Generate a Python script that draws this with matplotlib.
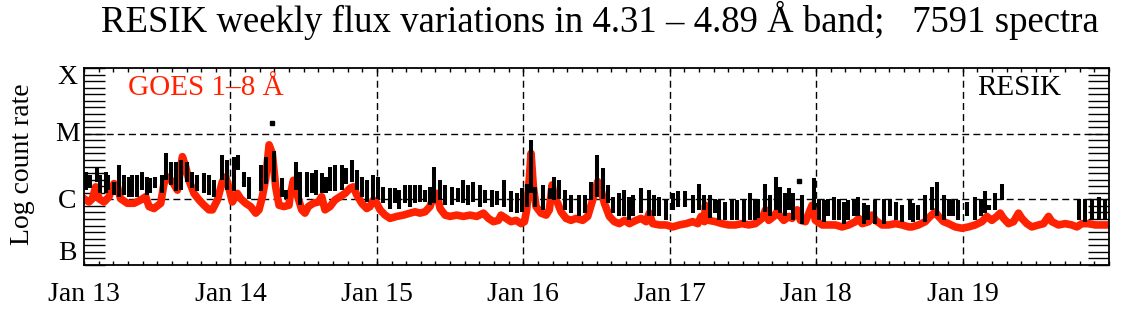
import numpy as np
import matplotlib
matplotlib.use("Agg")
import matplotlib.pyplot as plt
from matplotlib.ticker import MultipleLocator, FixedLocator

plt.rcParams['font.family'] = ['Liberation Serif', 'DejaVu Serif']

# -------------------------
# data: time in days from Jan 13 00:00, values in log10 flux
# -------------------------
goes_t = [0.000, 0.034, 0.057, 0.080, 0.102, 0.137, 0.171, 0.205, 0.228, 0.250,
          0.296, 0.342, 0.387, 0.421, 0.444, 0.478, 0.524, 0.546, 0.569, 0.603,
          0.638, 0.672, 0.694, 0.717, 0.751, 0.786, 0.820, 0.854, 0.877, 0.911,
          0.945, 0.968, 0.990, 1.013, 1.047, 1.070, 1.104, 1.138, 1.173, 1.195,
          1.218, 1.241, 1.264, 1.286, 1.309, 1.332, 1.366, 1.400,
          1.407, 1.430, 1.453, 1.487, 1.509, 1.532, 1.566, 1.601, 1.623, 1.646,
          1.680, 1.714, 1.749, 1.783, 1.817, 1.840, 1.862, 1.897, 1.931, 1.953,
          1.976, 1.999, 2.022, 2.056, 2.090, 2.136, 2.181, 2.227, 2.261, 2.295,
          2.329, 2.363, 2.386, 2.409, 2.432, 2.466, 2.500, 2.545, 2.591, 2.636,
          2.682, 2.728, 2.762, 2.796, 2.830,
          2.848, 2.882, 2.916, 2.951, 2.985, 3.008, 3.023, 3.042, 3.053, 3.069,
          3.087, 3.121, 3.156, 3.178, 3.197, 3.212, 3.235, 3.258, 3.292, 3.326,
          3.360, 3.406, 3.440, 3.474, 3.508, 3.531, 3.554, 3.588, 3.622, 3.656,
          3.691, 3.725, 3.770, 3.804, 3.839, 3.861, 3.884, 3.930, 3.975, 4.021,
          4.066, 4.112, 4.157, 4.192, 4.214, 4.237,
          4.244, 4.267, 4.312, 4.358, 4.403, 4.449, 4.494, 4.540, 4.585, 4.631,
          4.654, 4.676, 4.711, 4.733, 4.756, 4.779, 4.813, 4.836, 4.870, 4.893,
          4.927, 4.972, 4.995, 5.041, 5.086, 5.132, 5.177, 5.223, 5.268, 5.291,
          5.314, 5.359, 5.382, 5.405, 5.450, 5.496, 5.542, 5.587, 5.633,
          5.654, 5.699, 5.745, 5.779, 5.813, 5.836, 5.870, 5.904, 5.950, 5.995,
          6.041, 6.086, 6.132, 6.166, 6.200, 6.234, 6.257, 6.280, 6.314, 6.348,
          6.382, 6.405, 6.439, 6.473, 6.519, 6.553, 6.587, 6.610, 6.655, 6.701,
          6.746, 6.781, 6.815, 6.860, 6.906, 6.951, 7.000]
goes_v = [-5.99, -6.04, -5.99, -5.81, -5.99, -6.04, -5.96, -5.76, -5.81, -5.99,
          -6.06, -6.06, -6.01, -5.96, -6.11, -6.14, -6.06, -5.76, -5.66, -5.73,
          -5.86, -5.35, -5.50, -5.71, -5.91, -6.01, -6.09, -6.16, -6.16, -6.01,
          -5.73, -5.66, -5.83, -6.04, -5.91, -5.99, -6.06, -6.11, -6.21, -6.16,
          -5.96, -5.68, -5.17, -5.30, -5.81, -6.09, -6.11, -6.09,
          -5.96, -5.71, -5.91, -6.16, -6.21, -6.11, -6.06, -6.04, -5.96, -6.16,
          -6.11, -6.01, -5.96, -5.91, -5.83, -5.81, -5.93, -6.06, -6.14, -6.11,
          -6.01, -6.06, -6.16, -6.24, -6.29, -6.26, -6.24, -6.21, -6.19, -6.21,
          -6.19, -6.11, -5.96, -5.91, -6.14, -6.24, -6.26, -6.24, -6.26, -6.24,
          -6.26, -6.21, -6.29, -6.34, -6.32,
          -6.24, -6.29, -6.34, -6.32, -6.37, -6.34, -6.16, -5.66, -5.30, -5.81,
          -6.11, -6.21, -6.24, -6.16, -5.78, -5.96, -6.06, -6.19, -6.29, -6.32,
          -6.29, -6.32, -6.26, -6.01, -5.73, -5.86, -6.06, -6.26, -6.34, -6.37,
          -6.32, -6.37, -6.32, -6.29, -6.34, -6.21, -6.37, -6.39, -6.39, -6.42,
          -6.39, -6.37, -6.34, -6.37, -6.26, -6.34,
          -6.09, -6.32, -6.34, -6.37, -6.39, -6.39, -6.37, -6.39, -6.37, -6.29,
          -6.16, -6.32, -6.26, -6.19, -6.26, -6.32, -6.26, -6.29, -6.16, -6.32,
          -6.34, -6.09, -6.32, -6.39, -6.39, -6.39, -6.42, -6.39, -6.34, -6.29,
          -6.37, -6.34, -6.24, -6.32, -6.39, -6.39, -6.37, -6.39, -6.42,
          -6.42, -6.39, -6.34, -6.26, -6.19, -6.26, -6.34, -6.37, -6.42, -6.44,
          -6.42, -6.39, -6.34, -6.26, -6.32, -6.26, -6.21, -6.29, -6.37, -6.34,
          -6.21, -6.29, -6.37, -6.42, -6.39, -6.37, -6.26, -6.34, -6.39, -6.37,
          -6.39, -6.42, -6.37, -6.37, -6.39, -6.39, -6.39]

# RESIK spectra groups: time, lowest and highest value of each group
resik_t = [0.011, 0.041, 0.091, 0.109, 0.148, 0.166, 0.205, 0.239, 0.273, 0.307,
           0.330, 0.364, 0.394, 0.428, 0.451, 0.485, 0.535, 0.558, 0.592, 0.626,
           0.660, 0.706, 0.740, 0.774, 0.820, 0.854, 0.888, 0.945, 0.979, 1.025,
           1.054, 1.093, 1.127, 1.207, 1.241, 1.298, 1.355, 1.378,
           1.448, 1.475, 1.521, 1.555, 1.585, 1.623, 1.653, 1.680, 1.714, 1.760,
           1.789, 1.828, 1.862, 1.897, 1.931, 1.976, 2.010, 2.045, 2.090, 2.124,
           2.154, 2.193, 2.227, 2.261, 2.295, 2.329, 2.363, 2.391, 2.432, 2.466,
           2.511, 2.557, 2.586, 2.625, 2.659, 2.705, 2.739, 2.785, 2.819,
           2.869, 2.916, 2.955, 2.992, 3.023, 3.055, 3.083, 3.137, 3.183, 3.210,
           3.247, 3.288, 3.326, 3.383, 3.420, 3.463, 3.502, 3.543, 3.577, 3.611,
           3.656, 3.686, 3.725, 3.752, 3.804, 3.861, 3.896, 3.930, 3.975, 4.021,
           4.055, 4.105, 4.157, 4.203,
           4.237, 4.278, 4.308, 4.339, 4.380, 4.426, 4.460, 4.506, 4.551, 4.581,
           4.604, 4.654, 4.688, 4.726, 4.756, 4.786, 4.818, 4.840, 4.904, 4.984,
           5.018, 5.052, 5.082, 5.120, 5.155, 5.189, 5.218, 5.257, 5.287, 5.325,
           5.355, 5.405, 5.462, 5.501, 5.542, 5.587, 5.644,
           5.663, 5.699, 5.745, 5.790, 5.824, 5.870, 5.904, 5.934, 5.972, 6.029,
           6.086, 6.127, 6.150, 6.182, 6.223, 6.268,
           6.797, 6.837, 6.883, 6.929, 6.974]
resik_lo = [-5.86, -5.83, -5.73, -5.91, -5.91, -5.86, -5.93, -5.96, -5.93, -5.96,
            -5.96, -5.96, -5.86, -5.93, -5.91, -5.83, -5.91, -5.71, -5.78, -5.88,
            -5.86, -5.73, -5.83, -5.88, -5.91, -5.93, -5.96, -5.71, -5.86, -5.88,
            -5.55, -5.81, -5.99, -5.88, -5.76, -5.73, -5.96, -5.99,
            -5.86, -6.09, -5.96, -5.91, -5.93, -5.91, -5.91, -5.88, -5.88, -5.86,
            -5.76, -5.73, -5.86, -5.96, -6.04, -6.01, -5.99, -6.06, -6.14, -6.06,
            -6.14, -6.06, -6.11, -6.06, -6.04, -6.04, -6.09, -6.06, -6.01, -6.09,
            -6.09, -6.04, -6.06, -6.09, -6.04, -6.11, -6.06, -6.11, -6.09,
            -6.11, -6.19, -6.21, -6.19, -6.11, -5.91, -6.11, -6.16, -5.99, -6.01,
            -5.99, -6.16, -6.21, -6.26, -6.21, -6.01, -5.96, -5.99, -6.06, -6.21,
            -6.26, -6.26, -6.32, -6.26, -6.21, -6.26, -6.26, -6.26, -6.32, -6.16,
            -6.11, -6.11, -6.21, -6.16,
            -6.16, -6.29, -6.21, -6.32, -6.32, -6.32, -6.32, -6.34, -6.32, -6.32,
            -6.29, -6.19, -6.26, -6.16, -6.21, -6.26, -6.16, -6.32, -6.37, -6.16,
            -6.32, -6.34, -6.26, -6.32, -6.32, -6.37, -6.32, -6.26, -6.26, -6.37,
            -6.32, -6.37, -6.37, -6.26, -6.32, -6.34, -6.32,
            -6.34, -6.32, -6.34, -6.16, -6.26, -6.32, -6.26, -6.26, -6.32, -6.26,
            -6.32, -6.26, -6.21, -6.16, -6.16, -6.01,
            -6.32, -6.34, -6.32, -6.32, -6.32]
resik_hi = [-5.58, -5.63, -5.50, -5.63, -5.58, -5.63, -5.73, -5.48, -5.63, -5.66,
            -5.63, -5.63, -5.58, -5.66, -5.68, -5.66, -5.63, -5.30, -5.43, -5.43,
            -5.40, -5.43, -5.58, -5.63, -5.60, -5.63, -5.71, -5.33, -5.40, -5.35,
            -5.33, -5.58, -5.66, -5.48, -5.35, -5.27, -5.68, -5.86,
            -5.43, -5.58, -5.58, -5.60, -5.55, -5.60, -5.66, -5.50, -5.48, -5.48,
            -5.53, -5.40, -5.55, -5.66, -5.71, -5.63, -5.66, -5.81, -5.83, -5.83,
            -5.86, -5.78, -5.78, -5.78, -5.78, -5.86, -5.81, -5.50, -5.71, -5.78,
            -5.81, -5.83, -5.71, -5.78, -5.73, -5.78, -5.86, -5.86, -5.88,
            -5.71, -5.88, -5.91, -5.83, -5.76, -5.10, -5.81, -5.78, -5.83, -5.66,
            -5.71, -5.86, -5.93, -5.93, -5.93, -5.73, -5.33, -5.53, -5.78, -5.96,
            -5.91, -5.86, -5.96, -5.93, -5.83, -5.86, -5.93, -5.96, -5.99, -5.91,
            -5.88, -5.88, -5.93, -5.76,
            -5.93, -5.93, -5.99, -6.01, -6.04, -6.01, -6.01, -5.99, -5.91, -6.01,
            -5.99, -5.76, -5.93, -5.66, -5.81, -5.91, -5.83, -5.91, -5.93, -5.68,
            -5.99, -6.01, -5.99, -5.96, -5.99, -6.04, -6.01, -5.99, -5.96, -6.06,
            -6.09, -6.01, -5.99, -5.99, -6.04, -6.09, -6.01,
            -6.06, -6.09, -5.93, -5.81, -5.73, -5.93, -5.99, -6.01, -6.01, -6.04,
            -5.96, -5.99, -5.88, -6.09, -5.91, -5.76,
            -5.99, -5.99, -6.01, -5.96, -6.01]

# isolated RESIK points
dot_t = [1.284, 4.881]
dot_v = [-4.84, -5.72]

day_labels = ['Jan 13', 'Jan 14', 'Jan 15', 'Jan 16', 'Jan 17', 'Jan 18', 'Jan 19']
class_labels = ['B', 'C', 'M', 'X']
class_pos = [-6.83, -6.03, -5.01, -4.14]

# -------------------------
# figure
# -------------------------
fig = plt.figure(figsize=(11.22, 3.25), dpi=100)
ax = fig.add_axes([84 / 1122, 1 - 265 / 325, 1025 / 1122, 197 / 325])

ax.plot(goes_t, goes_v, color='#ff2200', lw=5.5, solid_joinstyle='round', zorder=2)
ax.vlines(resik_t, resik_lo, resik_hi, color='black', lw=2.9, zorder=3)
ax.plot(dot_t, dot_v, 's', color='black', ms=3, zorder=3)

ax.set_xlim(0, 7)
ax.set_ylim(-7, -4)

# dashed grid at days and at M / C levels
for d in range(1, 7):
    ax.axvline(d, color='black', lw=1, ls=(0, (5, 3)), zorder=1)
for lev in [-5, -6]:
    ax.axhline(lev, color='black', lw=1, ls=(0, (5, 3)), zorder=1)

ax.xaxis.set_major_locator(FixedLocator(range(7)))
ax.set_xticklabels(day_labels, fontsize=20)
ax.xaxis.set_minor_locator(MultipleLocator(0.1))
ax.tick_params(axis='x', which='both', direction='in', top=True, length=3,
               width=1, pad=12)

ax.yaxis.set_major_locator(MultipleLocator(0.1))
ax.set_yticklabels([])
ax.tick_params(axis='y', which='both', direction='in', right=True, length=15,
               width=1, labelleft=False)

for s in ax.spines.values():
    s.set_linewidth(1.3)

for lab, pos in zip(class_labels, class_pos):
    ax.text(-0.115, pos, lab, fontsize=20, ha='center', va='center')

ax.text(-0.42, -5.47, 'Log count rate', fontsize=20, rotation=90,
        ha='center', va='center')

ax.text(0.3, -4.41, 'GOES 1\u20138 \u00c5', fontsize=21, color='#ff2200',
        ha='left', va='baseline')
ax.text(6.1, -4.41, 'RESIK', fontsize=21, color='black',
        ha='left', va='baseline')

fig.text(600 / 1122, 1 - 32 / 325,
         'RESIK weekly flux variations in 4.31 \u2013 4.89 \u00c5 band;   7591 spectra',
         fontsize=26.5, ha='center', va='baseline')

fig.savefig('out.png', dpi=100)
